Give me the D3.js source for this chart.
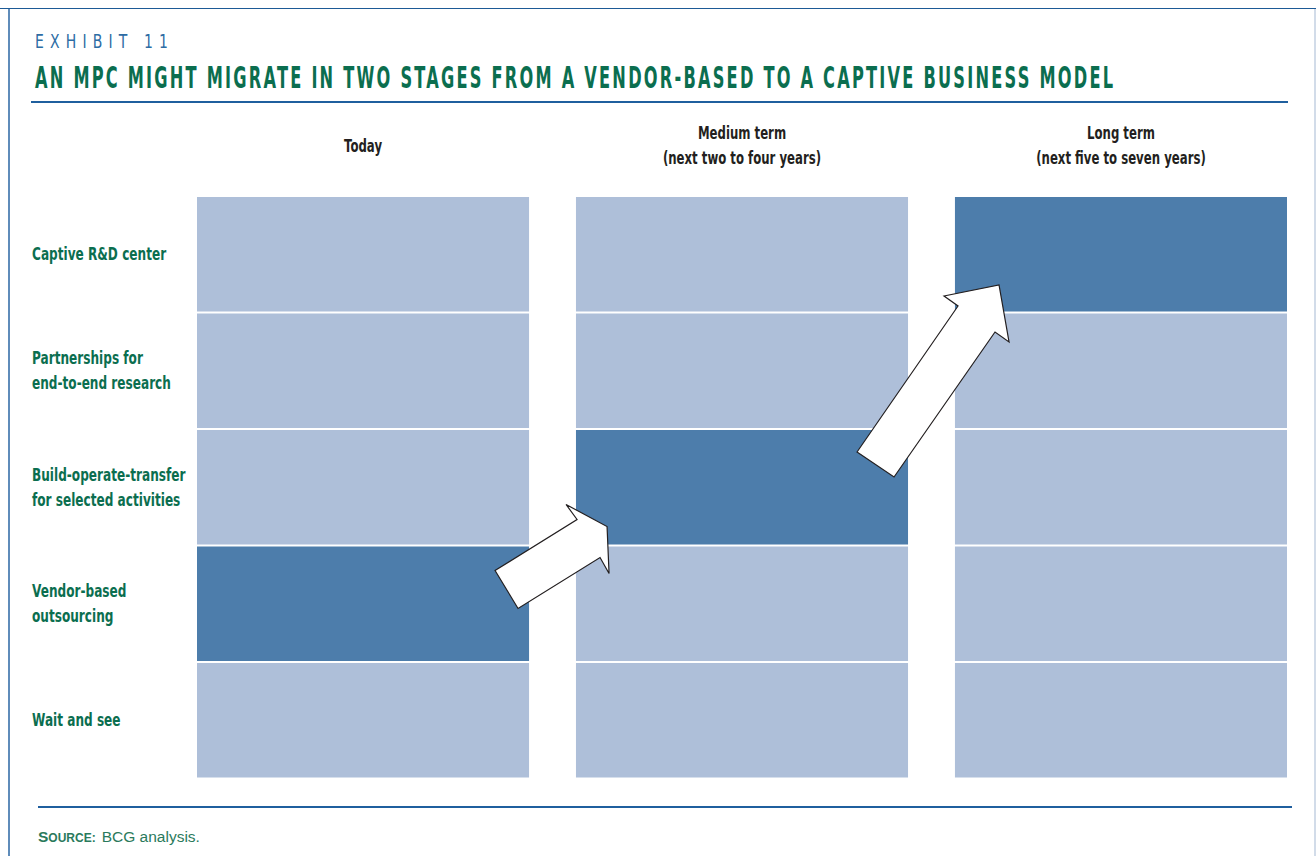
<!DOCTYPE html>
<html>
<head>
<meta charset="utf-8">
<script src="https://cdn.jsdelivr.net/npm/d3@7"></script>
<style>
  html, body { margin: 0; padding: 0; background: #fff; }
  svg { display: block; }
  .cond { font-family: "DejaVu Sans", sans-serif; }
</style>
</head>
<body>
<svg id="chart" width="1316" height="856"></svg>
<script>
// Stages (columns) and their sub-headings
const stages = ["Today", "Medium term", "Long term"];
const stageNotes = ["", "(next two to four years)", "(next five to seven years)"];

// Business models (rows), top to bottom; each label split into lines
const models = ["Captive R&D center", "Partnerships for end-to-end research",
  "Build-operate-transfer for selected activities", "Vendor-based outsourcing", "Wait and see"];
const modelLines = [["Captive R&D center"], ["Partnerships for", "end-to-end research"],
  ["Build-operate-transfer", "for selected activities"], ["Vendor-based", "outsourcing"], ["Wait and see"]];

// Model in place at each stage
const activeModel = ["Vendor-based outsourcing",
  "Build-operate-transfer for selected activities", "Captive R&D center"];

const svg = d3.select("#chart");
const W = 1316, H = 856;
const GREEN = "#0b6e4f", BLUE = "#1f5f9e";
const LIGHT = "#aebfd9", DARK = "#4d7dab";

// Horizontally compressed text, to give a condensed face
function condText(parent, x, y, str, sx, opts = {}) {
  const t = parent.append("text").attr("class", "cond")
    .attr("transform", `translate(${x},${y}) scale(${sx},1)`)
    .text(str);
  Object.entries(opts).forEach(([k, v]) => t.attr(k, v));
  return t;
}

// Frame
svg.append("line").attr("x1", 0).attr("x2", W).attr("y1", 8.5).attr("y2", 8.5)
  .attr("stroke", "#1d5a96").attr("stroke-width", 1.2);
svg.append("line").attr("x1", 9).attr("x2", 9).attr("y1", 9).attr("y2", H)
  .attr("stroke", "#2a66a3").attr("stroke-width", 1.5);
svg.append("line").attr("x1", 1315).attr("x2", 1315).attr("y1", 9).attr("y2", H)
  .attr("stroke", "#c3d0e2").attr("stroke-width", 1.5);

// Headings
const sxExhibit = 0.7, sxTitle = 0.54;
condText(svg, 35, 48, "EXHIBIT 11", sxExhibit, {
  fill: "#2d6ca4", "font-size": 20, "font-weight": 400,
  textLength: 133 / sxExhibit, lengthAdjust: "spacing" });
condText(svg, 35, 88, "AN MPC MIGHT MIGRATE IN TWO STAGES FROM A VENDOR-BASED TO A CAPTIVE BUSINESS MODEL", sxTitle, {
  fill: GREEN, "font-size": 30, "font-weight": 700,
  textLength: 1078 / sxTitle, lengthAdjust: "spacing" });
svg.append("line").attr("x1", 31).attr("x2", 1288).attr("y1", 102).attr("y2", 102)
  .attr("stroke", BLUE).attr("stroke-width", 2);

// Scales
const x = d3.scaleBand().domain(stages).range([197, 1287]).paddingInner(0.1238);
const y = d3.scaleBand().domain(models).range([197, 777.5]).paddingInner(0.0172);

// Cells
const cells = [];
stages.forEach((s, i) => models.forEach(m => cells.push({ stage: s, model: m, on: activeModel[i] === m })));
svg.append("g").selectAll("rect").data(cells).join("rect")
  .attr("x", d => x(d.stage)).attr("y", d => y(d.model))
  .attr("width", x.bandwidth()).attr("height", y.bandwidth())
  .attr("fill", d => d.on ? DARK : LIGHT);

// Column headers
const hdr = svg.append("g");
const hdrStyle = { fill: "#231f20", "font-size": 17, "font-weight": 700, "text-anchor": "middle" };
stages.forEach((s, i) => {
  const cx = x(s) + x.bandwidth() / 2;
  if (stageNotes[i]) {
    condText(hdr, cx, 139, s, 0.69, hdrStyle);
    condText(hdr, cx, 164, stageNotes[i], 0.69, hdrStyle);
  } else {
    condText(hdr, cx, 152, s, 0.69, hdrStyle);
  }
});

// Row labels
const lab = svg.append("g");
const labStyle = { fill: GREEN, "font-size": 18.5, "font-weight": 700 };
models.forEach((m, i) => {
  const cy = y(m) + y.bandwidth() / 2;
  const lines = modelLines[i];
  lines.forEach((t, j) => {
    condText(lab, 32, cy + 6 + (j - (lines.length - 1) / 2) * 25, t, 0.655, labStyle);
  });
});

// Migration arrows, outlined relative to the corner they cross
const arrowShapes = [
  { from: 0, corner: [x(stages[0]) + x.bandwidth(), y(models[3])],
    pts: [[-34, 24], [-11, 62], [71, 11], [80, 27], [78, -20], [37, -42], [48, -27]] },
  { from: 1, corner: [x(stages[1]) + x.bandwidth(), y(models[2])],
    pts: [[-51, 22], [-14, 47], [87, -98], [101, -88], [91, -145], [36, -134], [50, -124]] }
];
svg.append("g").selectAll("polygon").data(arrowShapes).join("polygon")
  .attr("points", d => d.pts.map(p => [d.corner[0] + p[0], d.corner[1] + p[1]].join(",")).join(" "))
  .attr("fill", "#fff").attr("stroke", "#231f20").attr("stroke-width", 1.2)
  .attr("stroke-linejoin", "miter");

// Footer
svg.append("line").attr("x1", 38).attr("x2", 1292).attr("y1", 807).attr("y2", 807)
  .attr("stroke", BLUE).attr("stroke-width", 2);
const src = svg.append("text").attr("x", 38).attr("y", 842)
  .attr("font-family", "Liberation Sans, Arial, sans-serif").attr("fill", "#2a7a5c");
src.append("tspan").attr("font-weight", 700).attr("font-size", 15.5).text("S");
src.append("tspan").attr("font-weight", 700).attr("font-size", 12).text("OURCE:");
src.append("tspan").attr("font-size", 15.5).attr("dx", 6).text("BCG analysis.");
</script>
</body>
</html>
